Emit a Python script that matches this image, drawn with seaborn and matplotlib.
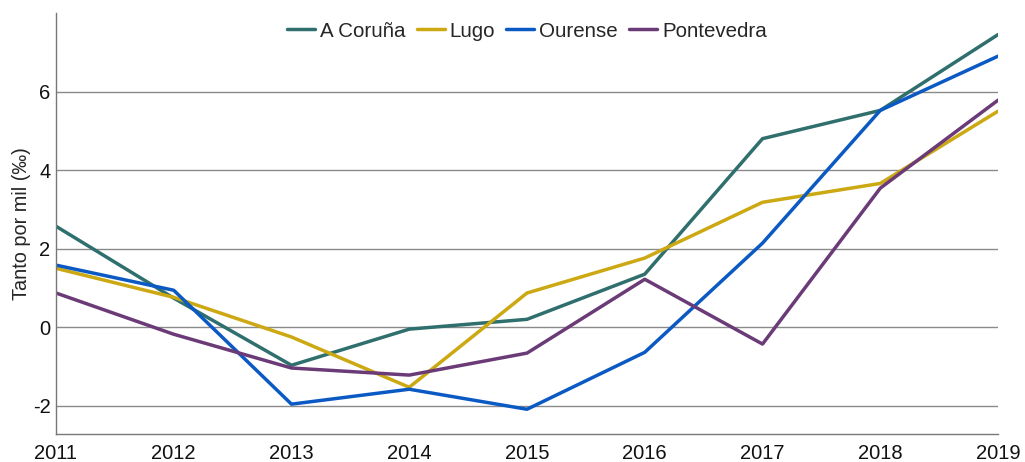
import pandas as pd
import numpy as np
import matplotlib
matplotlib.use('Agg')
import matplotlib.pyplot as plt
import seaborn as sns

# Data
years = [2011, 2012, 2013, 2014, 2015, 2016, 2017, 2018, 2019]
coruna = [2.57, 0.74, -0.97, -0.05, 0.20, 1.35, 4.80, 5.52, 7.45]
lugo = [1.50, 0.76, -0.25, -1.53, 0.87, 1.76, 3.18, 3.66, 5.50]
ourense = [1.58, 0.94, -1.96, -1.58, -2.09, -0.64, 2.14, 5.52, 6.90]
pontevedra = [0.87, -0.18, -1.04, -1.22, -0.66, 1.22, -0.43, 3.54, 5.78]
provinces = ['A Coruña', 'Lugo', 'Ourense', 'Pontevedra']
colors = ['#2F6F6D', '#CCA812', '#0B5AC4', '#6B3B78']

df = pd.DataFrame({'year': years, 'A Coruña': coruna, 'Lugo': lugo,
                   'Ourense': ourense, 'Pontevedra': pontevedra})
dfm = df.melt('year', var_name='provincia', value_name='valor')

sns.set_style('white')
plt.rcParams['font.family'] = ['Liberation Sans', 'DejaVu Sans']
plt.rcParams['axes.unicode_minus'] = False

fig = plt.figure(figsize=(10.25, 4.62), dpi=100)
ax = fig.add_axes([0.0546, 0.0606, 0.9191, 0.9113])

sns.lineplot(data=dfm, x='year', y='valor', hue='provincia', hue_order=provinces,
             palette=colors, linewidth=2.5, ax=ax)

ax.set_xlim(2011, 2019)
ax.set_ylim(-2.72, 8.0)
ax.set_xticks(years)
ax.set_yticks([-2, 0, 2, 4, 6])
ax.yaxis.grid(True, color='#8a8a8a', linewidth=1)
ax.set_axisbelow(True)
ax.tick_params(axis='both', length=0, labelsize=14.5, colors='#111111')
ax.tick_params(axis='x', pad=7)
ax.tick_params(axis='y', pad=4)

for s in ['top', 'right']:
    ax.spines[s].set_visible(False)
for s in ['left', 'bottom']:
    ax.spines[s].set_color('#777777')
    ax.spines[s].set_linewidth(1)

ax.set_xlabel(None)
ax.set_ylabel('Tanto por mil (‰)', fontsize=14.3)
ax.yaxis.set_label_coords(-0.026, 0.5)

h, _ = ax.get_legend_handles_labels()
ax.legend(h, provinces, loc='center', bbox_to_anchor=(0.5, 0.957), ncol=4,
          frameon=False, fontsize=14.8, handlelength=1.35, handletextpad=0.25,
          columnspacing=0.55)

plt.savefig('out.png', dpi=100)
